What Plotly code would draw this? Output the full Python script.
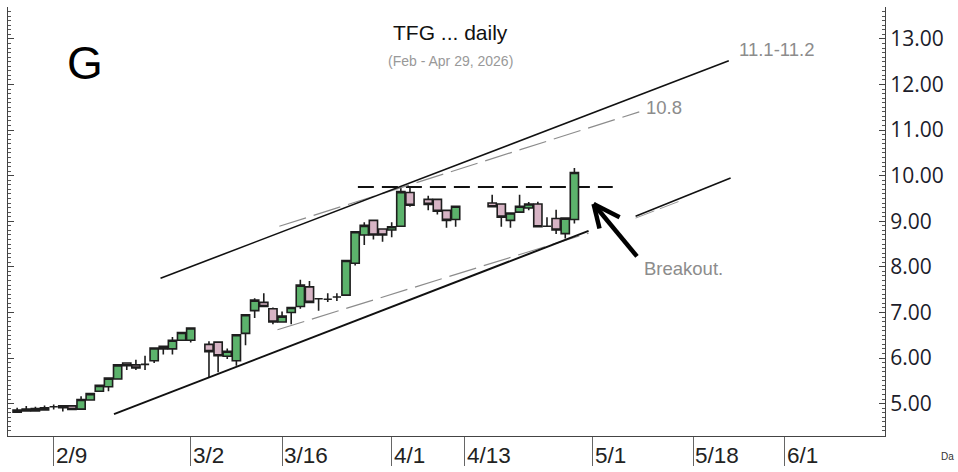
import numpy as np
import plotly.graph_objects as go

# ---------------- data ----------------
dates = [
    "2026-02-03", "2026-02-04", "2026-02-05", "2026-02-06", "2026-02-09", "2026-02-10",
    "2026-02-11", "2026-02-12", "2026-02-13", "2026-02-16", "2026-02-17", "2026-02-18",
    "2026-02-19", "2026-02-20", "2026-02-23", "2026-02-24", "2026-02-25", "2026-02-26",
    "2026-02-27", "2026-03-02", "2026-03-04", "2026-03-05", "2026-03-06", "2026-03-09",
    "2026-03-10", "2026-03-11", "2026-03-12", "2026-03-13", "2026-03-16", "2026-03-17",
    "2026-03-18", "2026-03-19", "2026-03-20", "2026-03-23", "2026-03-24", "2026-03-25",
    "2026-03-26", "2026-03-27", "2026-03-30", "2026-03-31", "2026-04-01", "2026-04-02",
    "2026-04-03", "2026-04-07", "2026-04-08", "2026-04-09", "2026-04-10", "2026-04-16",
    "2026-04-17", "2026-04-20", "2026-04-21", "2026-04-22", "2026-04-23", "2026-04-24",
    "2026-04-27", "2026-04-28", "2026-04-29",
]
opens = [4.81, 4.88, 4.84, 4.91, 4.93, 4.95, 4.95, 4.88, 5.08, 5.27, 5.37, 5.54, 5.89, 5.85,
         5.86, 5.94, 6.26, 6.20, 6.39, 6.39, 6.30, 6.35, 6.04, 5.94, 6.54, 7.04, 7.22, 7.08,
         6.79, 7.00, 7.13, 7.56, 7.30, 7.29, 7.34, 7.38, 8.08, 8.70, 9.02, 8.83, 8.81, 8.89,
         9.63, 9.48, 9.48, 9.24, 9.04, 9.40, 9.38, 9.02, 9.20, 9.29, 9.38, 8.89, 9.06, 8.73,
         9.04]
highs = [4.91, 4.95, 4.93, 4.96, 4.98, 4.96, 4.96, 5.16, 5.23, 5.41, 5.57, 5.86, 5.90, 5.96,
         6.05, 6.23, 6.27, 6.46, 6.57, 6.67, 6.37, 6.36, 6.21, 6.52, 6.96, 7.31, 7.42, 7.11,
         7.02, 7.12, 7.72, 7.69, 7.31, 7.42, 7.42, 8.14, 8.78, 8.98, 9.03, 8.84, 8.98, 9.76,
         9.74, 9.56, 9.49, 9.25, 9.34, 9.58, 9.39, 9.19, 9.58, 9.42, 9.43, 9.09, 9.25, 9.08,
         10.17]
lows = [4.80, 4.83, 4.83, 4.85, 4.87, 4.83, 4.86, 4.87, 5.07, 5.26, 5.27, 5.53, 5.74, 5.74,
        5.74, 5.89, 6.08, 6.08, 6.38, 6.34, 5.58, 5.69, 5.98, 5.83, 6.28, 6.88, 7.12, 6.74,
        6.78, 6.74, 7.08, 7.21, 7.04, 7.23, 7.25, 7.37, 8.03, 8.48, 8.60, 8.55, 8.65, 8.88,
        9.32, 9.24, 9.15, 8.86, 8.88, 9.31, 8.88, 8.86, 9.19, 9.24, 8.87, 8.88, 8.72, 8.62,
        8.95]
closes = [4.86, 4.84, 4.89, 4.86, 4.93, 4.91, 4.87, 5.09, 5.22, 5.40, 5.56, 5.85, 5.83, 5.78,
          5.86, 6.22, 6.20, 6.39, 6.56, 6.66, 6.14, 6.05, 6.15, 6.51, 6.95, 7.27, 7.13, 6.79,
          6.92, 7.11, 7.60, 7.22, 7.30, 7.29, 7.34, 8.14, 8.77, 8.91, 8.70, 8.70, 8.88, 9.65,
          9.35, 9.37, 9.22, 9.02, 9.33, 9.32, 9.09, 9.18, 9.33, 9.38, 8.88, 8.89, 8.81, 9.07,
          10.07]

tick_dates = ["2026-02-09", "2026-03-02", "2026-03-16", "2026-04-01",
              "2026-04-13", "2026-05-01", "2026-05-18", "2026-06-01"]
tick_labels = ["2/9", "3/2", "3/16", "4/1", "4/13", "5/1", "5/18", "6/1"]
price_ticks = [5, 6, 7, 8, 9, 10, 11, 12, 13]

# drawn trendlines (trading-day index, price)
upper_channel = ([15.7, 77.9], [7.75, 12.52])
upper_target = ([28.7, 68.1], [8.89, 11.40])
lower_channel = ([10.6, 62.55], [4.77, 8.79])
lower_channel_ext = ([67.7, 78.1], [9.11, 9.95])
lower_channel_ext_shadow = ([67.7, 72.5], [9.07, 9.44])
lower_support = ([28.5, 62.55], [6.62, 8.74])
resistance_level = 9.75
resistance_span = [37.3, 65.2]
arrow_tip = (63.1, 9.38)
arrow_tail = (67.85, 8.23)
arrow_wings = [(65.95, 9.09), (63.75, 8.84)]

origin = "2026-02-03"
x = np.busday_count(origin, dates)
tick_x = np.busday_count(origin, tick_dates)

GREEN = "#5cb36c"
PINK = "#d7b4c5"
EDGE = "#1e1e1e"

fig = go.Figure()
fig.add_trace(go.Candlestick(
    x=x, open=opens, high=highs, low=lows, close=closes,
    increasing=dict(fillcolor=GREEN, line=dict(color=EDGE, width=1.6)),
    decreasing=dict(fillcolor=PINK, line=dict(color=EDGE, width=1.6)),
    whiskerwidth=0, hoverinfo="skip", showlegend=False,
))

shapes = []
def seg(xs, ys, color, width, dash="solid", layer="above"):
    shapes.append(dict(type="line", xref="x", yref="y", x0=xs[0], y0=ys[0],
                       x1=xs[1], y1=ys[1], layer=layer,
                       line=dict(color=color, width=width, dash=dash)))

seg(*upper_target, "#8c8c8c", 1.2, "28px,8px")
seg(*lower_support, "#8c8c8c", 1.2, "28px,8px")
seg(*lower_channel_ext_shadow, "#9a9a9a", 1, "20px,6px")
seg(*upper_channel, "#111111", 1.6)
seg(*lower_channel, "#111111", 2)
seg(*lower_channel_ext, "#111111", 1.6)
seg(resistance_span, [resistance_level, resistance_level], "#111111", 2, "16px,8px", "below")
seg([arrow_tail[0], arrow_tip[0]], [arrow_tail[1], arrow_tip[1]], "#000000", 4.5)
for w in arrow_wings:
    seg([arrow_tip[0], w[0]], [arrow_tip[1], w[1]], "#000000", 4.5)

annotations = []
for tx, tl in zip(tick_x, tick_labels):
    annotations.append(dict(x=tx, y=0, xref="x", yref="paper", xanchor="left", yanchor="top",
                            xshift=0, yshift=-5, text=tl, showarrow=False,
                            font=dict(family="Liberation Sans Narrow, Liberation Sans, Arial, sans-serif",
                                      size=22.5, color="#222222")))

def txt(t, xp, yp, size, color, anchor="center", family="Liberation Sans, Arial, sans-serif"):
    annotations.append(dict(x=xp, y=yp, xref="paper", yref="paper", xanchor=anchor,
                            yanchor="middle", text=t, showarrow=False,
                            font=dict(family=family, size=size, color=color)))

txt("TFG ... daily", 0.505, 0.9414, 21, "#111111")
txt("(Feb - Apr 29, 2026)", 0.505, 0.8747, 14, "#999999")
txt("G", 0.0875, 0.870, 46, "#000000")
txt("11.1-11.2", 0.8315, 0.9011, 18.5, "#8c8c8c", "left")
txt("10.8", 0.725, 0.7648, 18.5, "#8c8c8c", "left")
txt("Breakout.", 0.723, 0.3908, 18.5, "#8c8c8c", "left")
txt("Da", 1.062, -0.047, 10, "#333333", "left")

fig.update_layout(
    width=958, height=472, autosize=False,
    margin=dict(l=8, r=73, t=7, b=30),
    paper_bgcolor="white", plot_bgcolor="white",
    boxgap=0.1, boxgroupgap=0,
    shapes=shapes, annotations=annotations,
    xaxis=dict(range=[-1, 95], showgrid=False, zeroline=False, showline=True,
               linecolor="#444444", linewidth=1, ticks="outside", ticklen=29,
               tickcolor="#666666", tickwidth=1, tickvals=tick_x,
               showticklabels=False, rangeslider=dict(visible=False)),
    yaxis=dict(range=[4.29, 13.70], side="right", showgrid=False, zeroline=False,
               showline=True, linecolor="#444444", linewidth=1, mirror="ticks",
               ticks="inside", ticklen=6, tickcolor="#444444", tickvals=price_ticks,
               tickformat=".2f",
               tickfont=dict(family="Open Sans, Noto Sans, sans-serif", size=21, color="#1c1c2a"),
               minor=dict(dtick=0.1, ticks="inside", ticklen=3, tickcolor="#555555")),
)

fig.write_html("out.html", config={"displayModeBar": False},
               post_script="document.body.style.margin='0';")
